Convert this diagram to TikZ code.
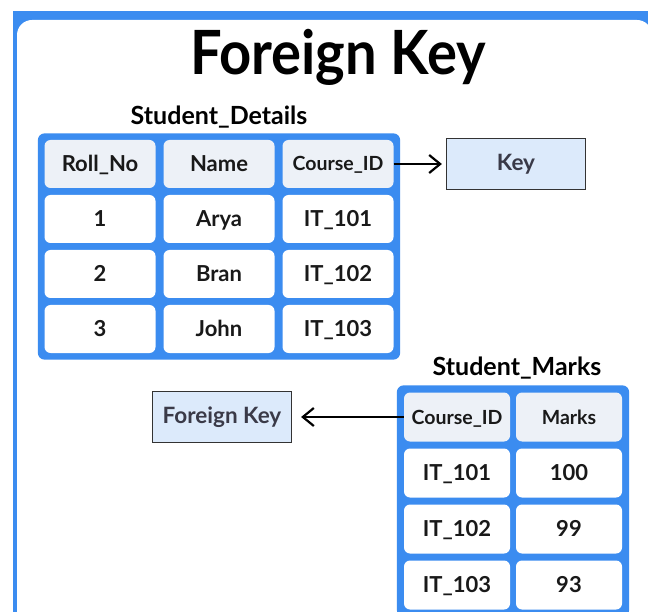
\documentclass[tikz,border=0pt]{standalone}
\usepackage{fontspec}
\setmainfont{Lato}
\usetikzlibrary{arrows.meta, positioning, fit, backgrounds}
\definecolor{frameblue}{HTML}{3B8CF0}
\definecolor{headfill}{HTML}{EDF1F7}
\definecolor{keyfill}{HTML}{DCEAFB}
\definecolor{keytext}{HTML}{3A3A48}

\begin{document}
\begin{tikzpicture}[x=1pt, y=-1pt,
    cell/.style={fill=white, rounded corners=6pt, minimum width=111pt, minimum height=48pt,
      font=\fontsize{22}{26}\selectfont\bfseries, text=black!90,
      text height=15.8pt, text depth=0pt},
    head/.style={cell, fill=headfill, font=\fontsize{22}{26}\selectfont\bfseries},
    idhead/.style={font=\fontsize{19.5}{23}\selectfont\bfseries, text height=14pt},
    smcell/.style={minimum width=106pt, minimum height=49pt},
    frame/.style={fill=frameblue, rounded corners=7pt},
    keybox/.style={draw=black!80, line width=1.2pt, fill=keyfill, text=keytext,
      minimum width=139pt, minimum height=51pt, font=\fontsize{22.5}{26}\selectfont\bfseries},
    caption/.style={font=\fontsize{25}{30}\selectfont\bfseries},
    arrow/.style={-{Straight Barb[length=11pt, width=18pt]}, line width=2.2pt}]
  \useasboundingbox (0,0) rectangle (648,612);

  % title
  \node[font=\fontsize{61}{70}\selectfont\bfseries] (title) at (338,57) {\scalebox{0.92}[1]{Foreign Key}};

  % Student_Details
  \node[caption] (sdlabel) at (219,117) {Student\_Details};
  \node[head] (sd-0-1) at (100,164) {Roll\_No};
  \node[head] (sd-0-2) at (219,164) {Name};
  \node[head, idhead] (sd-0-3) at (338,164) {Course\_ID};
  \foreach \r/\n/\c [count=\i] in {1/Arya/IT\_101, 2/Bran/IT\_102, 3/John/IT\_103} {
    \node[cell] (sd-\i-1) at (100,{164+55*\i}) {\r};
    \node[cell] (sd-\i-2) at (219,{164+55*\i}) {\n};
    \node[cell] (sd-\i-3) at (338,{164+55*\i}) {\c};
  }
  \node[keybox] (key) at (516,164) {Key};

  % Student_Marks
  \node[caption] (smlabel) at (517,368) {Student\_Marks};
  \node[head, smcell, idhead] (sm-0-1) at (457,417) {Course\_ID};
  \node[head, smcell, idhead] (sm-0-2) at (569,417) {Marks};
  \foreach \c/\m [count=\i] in {IT\_101/100, IT\_102/99, IT\_103/93} {
    \node[cell, smcell] (sm-\i-1) at (457,{417+56*\i}) {\c};
    \node[cell, smcell] (sm-\i-2) at (569,{417+56*\i}) {\m};
  }
  \node[keybox] (fk) at (222,417) {Foreign Key};

  % frames
  \begin{scope}[on background layer]
    \fill[frameblue] (13,11) rectangle (648,612);
    \fill[white, rounded corners=15pt] (17,20) rectangle (652,625);
    \node[frame, fit=(sd-0-1)(sd-3-3), inner sep=6.5pt] (sdframe) {};
    \node[frame, fit=(sm-0-1)(sm-3-2), inner sep=7pt] (smframe) {};
  \end{scope}

  \draw[arrow, shorten >=4pt] (sd-0-3.east) -- (key.west);
  \draw[arrow, shorten >=9pt] (sm-0-1.west) -- (fk.east);
\end{tikzpicture}
\end{document}
